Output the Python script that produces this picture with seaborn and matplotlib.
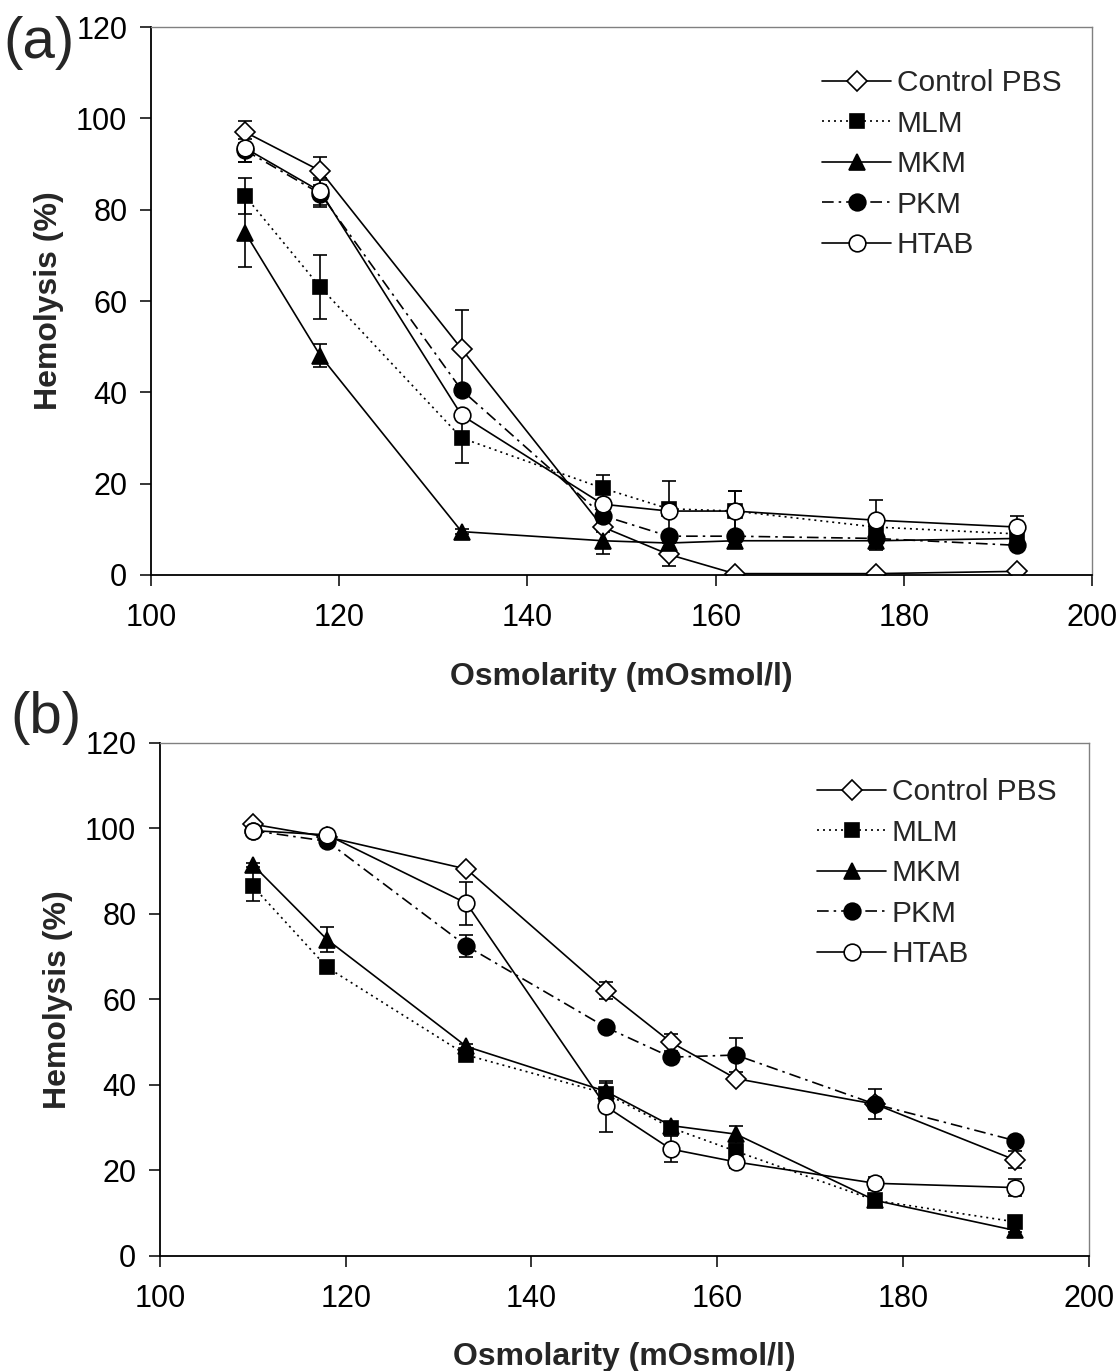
import numpy as np
import pandas as pd
import matplotlib
matplotlib.use("Agg")
import matplotlib.pyplot as plt
import seaborn as sns

# osmolarity points shared by both panels
OSMOLARITY = [110, 118, 133, 148, 155, 162, 177, 192]
SERIES = ["Control PBS", "MLM", "MKM", "PKM", "HTAB"]

# panel (a): mean hemolysis (%) and error
A_CONTROL = [97.0, 88.5, 49.5, 10.5, 4.5, 0.3, 0.3, 0.8]
A_CONTROL_ERR = [2.5, 3.0, 8.5, 1.0, 2.5, 0.3, 0.3, 0.3]
A_MLM = [83.0, 63.0, 30.0, 19.0, 14.5, 14.0, 10.5, 9.0]
A_MLM_ERR = [4.0, 7.0, 5.5, 3.0, 6.0, 4.5, 1.0, 1.0]
A_MKM = [75.0, 48.0, 9.5, 7.5, 7.0, 7.5, 7.5, 8.0]
A_MKM_ERR = [7.5, 2.5, 0.5, 3.0, 1.0, 1.0, 2.0, 1.0]
A_PKM = [93.0, 83.5, 40.5, 13.0, 8.5, 8.5, 8.0, 6.5]
A_PKM_ERR = [2.5, 3.0, 1.0, 1.0, 1.0, 1.0, 1.0, 1.0]
A_HTAB = [93.5, 84.0, 35.0, 15.5, 14.0, 14.0, 12.0, 10.5]
A_HTAB_ERR = [3.0, 3.0, 1.0, 1.0, 1.0, 4.5, 4.5, 2.5]

# panel (b)
B_CONTROL = [101.0, 98.0, 90.5, 62.0, 50.0, 41.5, 35.5, 22.5]
B_CONTROL_ERR = [0.5, 0.5, 0.5, 2.0, 2.0, 0.5, 0.5, 2.0]
B_MLM = [86.5, 67.5, 47.0, 38.0, 30.0, 24.5, 13.0, 8.0]
B_MLM_ERR = [3.5, 0.5, 0.5, 2.5, 0.5, 0.5, 0.5, 0.5]
B_MKM = [91.5, 74.0, 49.0, 38.5, 30.5, 28.5, 13.0, 6.0]
B_MKM_ERR = [0.5, 3.0, 0.5, 0.5, 0.5, 2.0, 0.5, 0.5]
B_PKM = [99.5, 97.0, 72.5, 53.5, 46.5, 47.0, 35.5, 27.0]
B_PKM_ERR = [0.5, 0.5, 2.5, 0.5, 0.5, 4.0, 3.5, 0.5]
B_HTAB = [99.5, 98.5, 82.5, 35.0, 25.0, 22.0, 17.0, 16.0]
B_HTAB_ERR = [0.5, 0.5, 5.0, 6.0, 3.0, 1.5, 1.5, 2.0]

# per-series look: marker, face colour, line style, marker size
STYLE = {
    "Control PBS": ("D", "white", "-", 10),
    "MLM": ("s", "black", (0, (1.2, 2.4)), 10.5),
    "MKM": ("^", "black", "-", 12),
    "PKM": ("o", "black", (0, (7, 3, 1.5, 3)), 12),
    "HTAB": ("o", "white", "-", 12),
}

FONT = ["Liberation Sans", "DejaVu Sans"]


def draw_panel(ax, means, errs):
    for name, y, e in zip(SERIES, means, errs):
        marker, face, ls, ms = STYLE[name]
        ax.errorbar(OSMOLARITY, y, yerr=e, fmt="none", ecolor="black",
                    elinewidth=1.2, capsize=5, capthick=1.2, zorder=1.5)
        sns.lineplot(x=OSMOLARITY, y=y, ax=ax, color="black", linewidth=1.2,
                     linestyle=ls, marker=marker, markersize=ms,
                     markerfacecolor=face, markeredgecolor="black",
                     markeredgewidth=1.2, label=name, zorder=2)

    ax.set_xlim(100, 200)
    ax.set_ylim(0, 120)
    ax.set_xticks(np.arange(100, 201, 20))
    ax.set_yticks(np.arange(0, 121, 20))
    ax.tick_params(axis="both", direction="out", length=8, width=1.1,
                   labelsize=22, colors="black")
    ax.tick_params(axis="x", pad=12)
    ax.tick_params(axis="y", pad=9)
    ax.set_xlabel("Osmolarity (mOsmol/l)", fontsize=23, fontweight="bold")
    ax.set_ylabel("Hemolysis (%)", fontsize=23, fontweight="bold")
    for side in ["left", "bottom"]:
        ax.spines[side].set_color("black")
        ax.spines[side].set_linewidth(1.3)
    for side in ["top", "right"]:
        ax.spines[side].set_visible(True)
        ax.spines[side].set_color("#808080")
        ax.spines[side].set_linewidth(1.0)
    ax.grid(False)


sns.set_style("ticks")
plt.rcParams["font.family"] = FONT

fig = plt.figure(figsize=(11.18, 13.71), dpi=100)
ax_a = fig.add_axes([0.135, 0.5806, 0.842, 0.3997])
ax_b = fig.add_axes([0.143, 0.0839, 0.831, 0.3742])

draw_panel(ax_a, [A_CONTROL, A_MLM, A_MKM, A_PKM, A_HTAB],
           [A_CONTROL_ERR, A_MLM_ERR, A_MKM_ERR, A_PKM_ERR, A_HTAB_ERR])
draw_panel(ax_b, [B_CONTROL, B_MLM, B_MKM, B_PKM, B_HTAB],
           [B_CONTROL_ERR, B_MLM_ERR, B_MKM_ERR, B_PKM_ERR, B_HTAB_ERR])

leg_kw = dict(loc="upper right", frameon=False, fontsize=21.5,
              handlelength=2.3, handletextpad=0.2, labelspacing=0.42,
              borderaxespad=0.0)
ax_a.legend(bbox_to_anchor=(0.98, 0.945), **leg_kw)
ax_b.legend(bbox_to_anchor=(0.978, 0.955), **leg_kw)

ax_a.xaxis.set_label_coords(0.5, -0.158)
ax_a.yaxis.set_label_coords(-0.092, 0.5)
ax_b.xaxis.set_label_coords(0.5, -0.168)
ax_b.yaxis.set_label_coords(-0.094, 0.5)

fig.text(0.003, 1 - 43 / 1371, "(a)", fontsize=42, va="center", ha="left")
fig.text(0.009, 1 - 718 / 1371, "(b)", fontsize=42, va="center", ha="left")

fig.savefig("out.png", dpi=100, facecolor="white")
plt.close(fig)
